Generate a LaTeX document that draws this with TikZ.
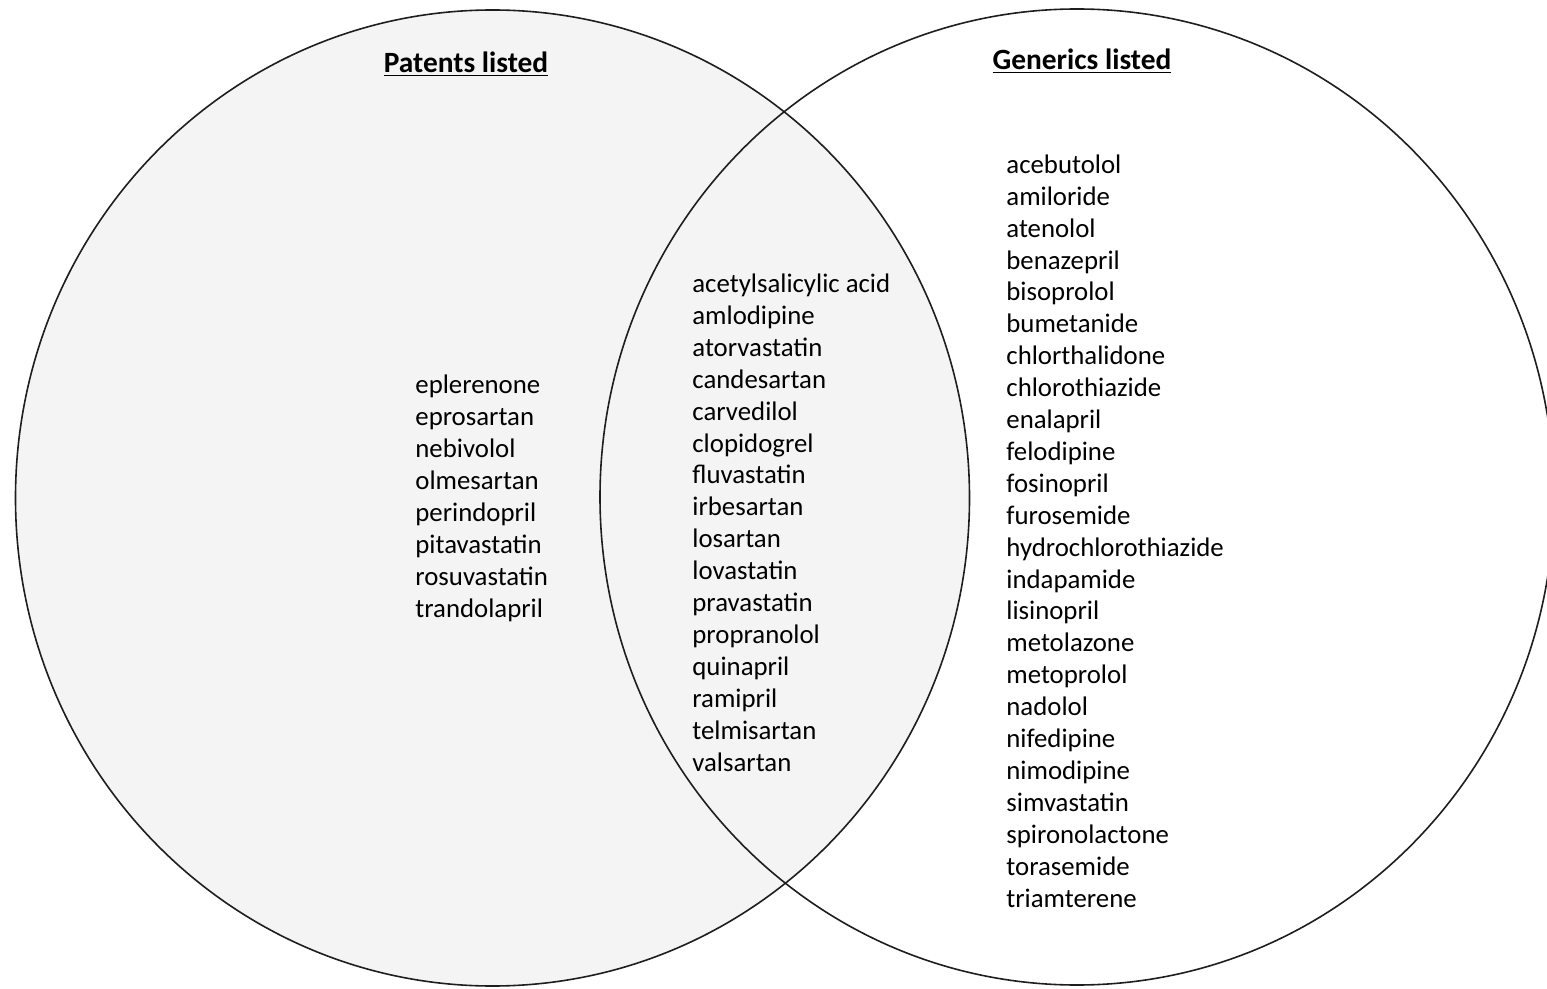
\documentclass[tikz,border=0pt]{standalone}
\usepackage{fontspec}
\setmainfont{Carlito}
\usetikzlibrary{positioning, shapes.geometric}
\definecolor{vFill}{HTML}{F4F4F4}
\definecolor{vLine}{HTML}{1E1E1E}

\begin{document}
\begin{tikzpicture}[
  x=0.5pt, y=-0.5pt,
  every node/.style={font=\fontsize{13.4}{15.95}\selectfont, text=black},
  setlist/.style={align=left, anchor=base west, inner sep=0pt},
  settitle/.style={font=\fontsize{14.7}{17}\selectfont\bfseries, inner sep=0pt},
]
  % Page
  \useasboundingbox (0,0) rectangle (1547,989);

  % Sets
  \node[ellipse, draw=vLine, line width=0.8pt, fill=vFill, minimum width=477pt,
        minimum height=488pt, inner sep=0pt] (patents) at (492.5,498) {};
  \node[ellipse, draw=vLine, line width=0.8pt, minimum width=477pt,
        minimum height=488pt, inner sep=0pt] (generics) at (1077,497) {};

  % Titles
  \node[settitle] (patentsTitle) at (466,64) {\underline{Patents listed}};
  \node[settitle] (genericsTitle) at (1082,61) {\underline{Generics listed}};

  % Patents only (anchored on the last line)
  \node[setlist] (patentsOnly) at (415,617) {eplerenone\\eprosartan\\nebivolol\\olmesartan\\perindopril\\pitavastatin\\rosuvastatin\\trandolapril};

  % Both
  \node[setlist] (bothSets) at (692,771) {acetylsalicylic acid\\amlodipine\\atorvastatin\\candesartan\\carvedilol\\clopidogrel\\fluvastatin\\irbesartan\\losartan\\lovastatin\\pravastatin\\propranolol\\quinapril\\ramipril\\telmisartan\\valsartan};

  % Generics only
  \node[setlist] (genericsOnly) at (1006,907) {acebutolol\\amiloride\\atenolol\\benazepril\\bisoprolol\\bumetanide\\chlorthalidone\\chlorothiazide\\enalapril\\felodipine\\fosinopril\\furosemide\\hydrochlorothiazide\\indapamide\\lisinopril\\metolazone\\metoprolol\\nadolol\\nifedipine\\nimodipine\\simvastatin\\spironolactone\\torasemide\\triamterene};
\end{tikzpicture}
\end{document}
